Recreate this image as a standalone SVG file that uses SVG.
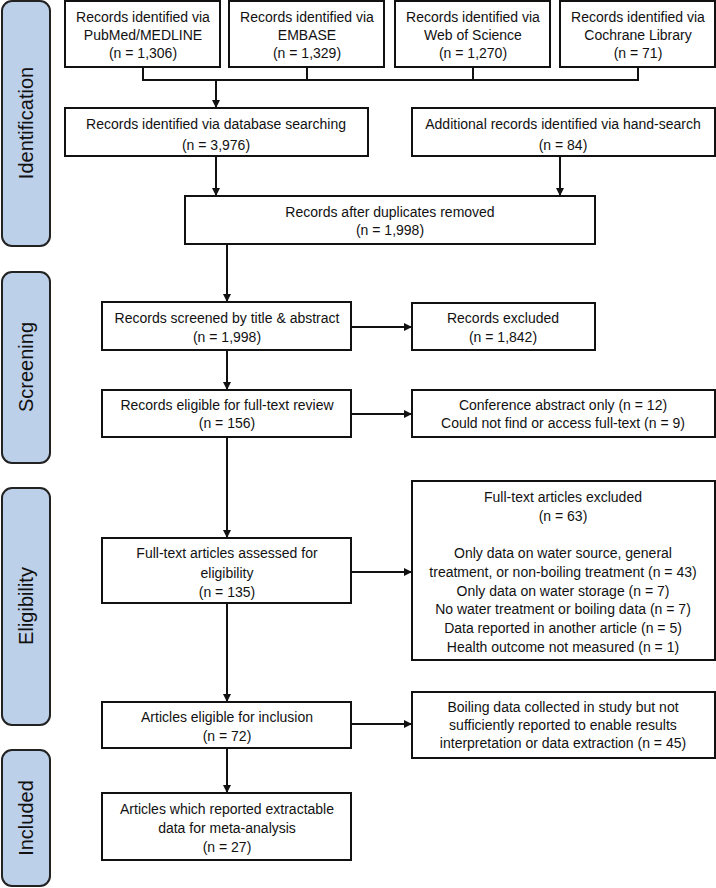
<svg xmlns="http://www.w3.org/2000/svg" width="716" height="888" viewBox="0 0 716 888">
<style>
.box{fill:#fff;stroke:#111;stroke-width:2}
.phase{fill:#bdd0e9;stroke:#222;stroke-width:2}
text{font-family:"Liberation Sans",Arial,sans-serif;font-size:14px;fill:#111;text-anchor:middle}
.ph{font-size:20px}
.c{fill:none;stroke:#111;stroke-width:2}
</style>
<defs>
<marker id="ah" markerWidth="8" markerHeight="8" refX="7" refY="4" orient="auto" markerUnits="userSpaceOnUse">
<path d="M0,0 L8,4 L0,8 Z" fill="#111"/>
</marker>
</defs>
<rect width="716" height="888" fill="#fff"/>
<g id="phase-identification"><rect class="phase" x="2" y="1" width="48" height="245" rx="10"/><text class="ph" transform="translate(33,123) rotate(-90)">Identification</text></g>
<g id="phase-screening"><rect class="phase" x="2" y="272" width="48" height="191" rx="10"/><text class="ph" transform="translate(33,367) rotate(-90)">Screening</text></g>
<g id="phase-eligibility"><rect class="phase" x="2" y="488" width="48" height="237" rx="10"/><text class="ph" transform="translate(33,606) rotate(-90)">Eligibility</text></g>
<g id="phase-included"><rect class="phase" x="2" y="750" width="48" height="136" rx="10"/><text class="ph" transform="translate(33,818) rotate(-90)">Included</text></g>

<g id="pubmed"><rect class="box" x="65" y="1" width="155" height="66"/><text x="143" y="22">Records identified via</text><text x="143" y="40">PubMed/MEDLINE</text><text x="143" y="58">(n = 1,306)</text></g>
<g id="embase"><rect class="box" x="229" y="1" width="155" height="66"/><text x="307" y="22">Records identified via</text><text x="307" y="40">EMBASE</text><text x="307" y="58">(n = 1,329)</text></g>
<g id="wos"><rect class="box" x="395" y="1" width="155" height="66"/><text x="473" y="22">Records identified via</text><text x="473" y="40">Web of Science</text><text x="473" y="58">(n = 1,270)</text></g>
<g id="cochrane"><rect class="box" x="560" y="1" width="155" height="66"/><text x="638" y="22">Records identified via</text><text x="638" y="40">Cochrane Library</text><text x="638" y="58">(n = 71)</text></g>

<g id="database"><rect class="box" x="65" y="108" width="303" height="48"/><text x="216" y="129">Records identified via database searching</text><text x="216" y="150">(n = 3,976)</text></g>
<g id="handsearch"><rect class="box" x="412" y="108" width="303" height="48"/><text x="563" y="129">Additional records identified via hand-search</text><text x="563" y="150">(n = 84)</text></g>
<g id="duplicates"><rect class="box" x="185" y="196" width="410" height="48"/><text x="390" y="217">Records after duplicates removed</text><text x="390" y="235">(n = 1,998)</text></g>

<g id="screened"><rect class="box" x="102" y="302" width="249" height="48"/><text x="227" y="323">Records screened by title &amp; abstract</text><text x="227" y="342">(n = 1,998)</text></g>
<g id="excluded1"><rect class="box" x="412" y="303" width="183" height="47"/><text x="503" y="323">Records excluded</text><text x="503" y="342">(n = 1,842)</text></g>
<g id="fulltext-review"><rect class="box" x="102" y="390" width="249" height="47"/><text x="227" y="410">Records eligible for full-text review</text><text x="227" y="428">(n = 156)</text></g>
<g id="excluded2"><rect class="box" x="412" y="390" width="303" height="47"/><text x="563" y="410">Conference abstract only (n = 12)</text><text x="563" y="428">Could not find or access full-text (n = 9)</text></g>

<g id="assessed"><rect class="box" x="102" y="538" width="249" height="65"/><text x="227" y="558">Full-text articles assessed for</text><text x="227" y="578">eligibility</text><text x="227" y="597">(n = 135)</text></g>
<g id="excluded3"><rect class="box" x="412" y="481" width="303" height="179"/>
<text x="563" y="502">Full-text articles excluded</text><text x="563" y="521">(n = 63)</text>
<text x="563" y="558">Only data on water source, general</text>
<text x="563" y="577">treatment, or non-boiling treatment (n = 43)</text>
<text x="563" y="596">Only data on water storage (n = 7)</text>
<text x="563" y="614">No water treatment or boiling data (n = 7)</text>
<text x="563" y="633">Data reported in another article (n = 5)</text>
<text x="563" y="652">Health outcome not measured (n = 1)</text></g>

<g id="inclusion"><rect class="box" x="102" y="702" width="249" height="46"/><text x="227" y="722">Articles eligible for inclusion</text><text x="227" y="741">(n = 72)</text></g>
<g id="excluded4"><rect class="box" x="412" y="692" width="303" height="66"/><text x="563" y="712">Boiling data collected in study but not</text><text x="563" y="730">sufficiently reported to enable results</text><text x="563" y="748">interpretation or data extraction (n = 45)</text></g>

<g id="included"><rect class="box" x="102" y="793" width="249" height="67"/><text x="227" y="814">Articles which reported extractable</text><text x="227" y="833">data for meta-analysis</text><text x="227" y="852">(n = 27)</text></g>

<g id="connectors">
<path class="c" d="M143,67 V80 H638 V67 M307,67 V80 M473,67 V80"/>
<path class="c" d="M216,80 V107" marker-end="url(#ah)"/>
<path class="c" d="M216,156 V195" marker-end="url(#ah)"/>
<path class="c" d="M560,156 V195" marker-end="url(#ah)"/>
<path class="c" d="M227,244 V301" marker-end="url(#ah)"/>
<path class="c" d="M351,327 H411" marker-end="url(#ah)"/>
<path class="c" d="M227,350 V389" marker-end="url(#ah)"/>
<path class="c" d="M351,414 H411" marker-end="url(#ah)"/>
<path class="c" d="M227,437 V537" marker-end="url(#ah)"/>
<path class="c" d="M351,572 H411" marker-end="url(#ah)"/>
<path class="c" d="M227,603 V701" marker-end="url(#ah)"/>
<path class="c" d="M351,724 H411" marker-end="url(#ah)"/>
<path class="c" d="M227,748 V792" marker-end="url(#ah)"/>
</g>
</svg>
